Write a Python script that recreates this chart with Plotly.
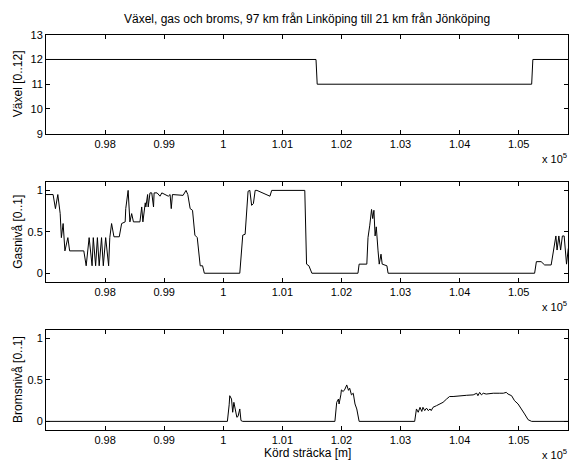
import plotly.graph_objects as go

# ---------------- data ----------------
gear_x = [97000, 101570, 101590, 105220, 105240, 105840]
gear_y = [12, 12, 11, 11, 12, 12]

gas_x = [97000, 97120, 97160, 97200, 97240, 97260, 97290, 97320, 97370, 97400,
         97640, 97680, 97730, 97780, 97800, 97840, 97870, 97900, 97940, 97970,
         98010, 98060, 98080, 98110, 98150, 98240, 98280, 98340, 98350, 98390,
         98420, 98450, 98480, 98590, 98620, 98640, 98680, 98690, 98720, 98730,
         98760, 98790, 98820, 98830, 98880, 98930, 98960, 99070, 99100, 99120,
         99140, 99320, 99370, 99400, 99440, 99480, 99520, 99560, 99610, 99650,
         99680, 100280, 100330, 100370, 100420, 100450, 100480, 100510, 100540, 100570,
         100790, 100820, 101380, 101410, 101450, 101500, 102280, 102300, 102430, 102450,
         102480, 102510, 102530, 102550, 102570, 102590, 102620, 102640, 102670, 102690,
         102770, 102790, 105270, 105300, 105380, 105440, 105550, 105590, 105630, 105650,
         105680, 105710, 105740, 105770, 105810, 105840]
gas_y = [0.95, 0.95, 0.78, 0.95, 0.72, 0.43, 0.60, 0.27, 0.43, 0.27,
         0.27, 0.09, 0.43, 0.09, 0.43, 0.09, 0.43, 0.09, 0.43, 0.09,
         0.43, 0.09, 0.43, 0.60, 0.44, 0.44, 0.60, 0.62, 0.78, 1.00,
         0.62, 0.72, 0.62, 0.62, 0.80, 0.62, 0.85, 0.80, 0.95, 0.80,
         0.97, 0.97, 0.80, 0.97, 0.97, 0.93, 0.97, 0.93, 0.95, 0.78,
         0.95, 0.94, 1.00, 0.95, 0.78, 0.76, 0.46, 0.43, 0.09, 0.09,
         0.00, 0.00, 0.46, 0.47, 0.99, 1.00, 0.82, 0.84, 1.00, 1.00,
         0.93, 1.00, 1.00, 0.11, 0.09, 0.00, 0.00, 0.11, 0.11, 0.43,
         0.58, 0.77, 0.66, 0.76, 0.45, 0.56, 0.27, 0.11, 0.23, 0.11,
         0.09, 0.00, 0.00, 0.14, 0.14, 0.10, 0.10, 0.27, 0.45, 0.28,
         0.45, 0.28, 0.45, 0.45, 0.11, 0.30]

brake_x = [97000, 100070, 100100, 100110, 100140, 100160, 100180, 100210, 100230, 100250,
           100280, 100300, 100330, 101890, 101920, 101950, 101960, 101990, 102000, 102030,
           102060, 102090, 102120, 102140, 102170, 102200, 102230, 102260, 102280, 102300,
           103240, 103270, 103300, 103330, 103360, 103380, 103410, 103440, 103470, 103500,
           103520, 103550, 103610, 103670, 103720, 103780, 103830, 103890, 104000, 104120,
           104230, 104290, 104310, 104340, 104370, 104400, 104450, 104570, 104680, 104740,
           104790, 104820, 104880, 104930, 104990, 105050, 105100, 105160, 105220, 105840]
brake_y = [0.00, 0.00, 0.20, 0.31, 0.27, 0.11, 0.23, 0.09, 0.05, 0.06,
           0.15, 0.01, 0.00, 0.00, 0.23, 0.27, 0.21, 0.32, 0.38, 0.36,
           0.39, 0.44, 0.375, 0.40, 0.32, 0.34, 0.21, 0.15, 0.07, 0.00,
           0.00, 0.15, 0.11, 0.17, 0.12, 0.17, 0.13, 0.16, 0.13, 0.15,
           0.13, 0.17, 0.19, 0.21, 0.23, 0.27, 0.30, 0.30, 0.31, 0.315,
           0.32, 0.34, 0.31, 0.35, 0.32, 0.34, 0.33, 0.34, 0.34, 0.34,
           0.35, 0.33, 0.31, 0.25, 0.21, 0.15, 0.09, 0.02, 0.00, 0.00]

x_tickvals = [98000, 99000, 100000, 101000, 102000, 103000, 104000, 105000]
x_ticktext = ["0.98", "0.99", "1", "1.01", "1.02", "1.03", "1.04", "1.05"]
x_range = [97000, 105840]

gear_ticks = [9, 10, 11, 12, 13]
level_tickvals = [0, 0.5, 1]
level_ticktext = ["0", "0.5", "1"]

title_text = "Växel, gas och broms, 97 km från Linköping till 21 km från Jönköping"
ylabels = ["Växel [0..12]", "Gasnivå [0..1]", "Bromsnivå [0..1]"]
xlabel = "Körd sträcka [m]"

# ---------------- figure ----------------
W, H = 573, 473
FONT = "Liberation Sans, Arial, Helvetica, sans-serif"

x_dom = [46 / W, 568.3 / W]
# pixel top/bottom of each panel
panels = [(29.5, 131.0), (180.7, 282.7), (332.7, 434.7)]
y_doms = [[1 - b / H, 1 - t / H] for t, b in panels]

fig = go.Figure()
series = [(gear_x, gear_y), (gas_x, gas_y), (brake_x, brake_y)]
for i, (sx, sy) in enumerate(series):
    fig.add_trace(go.Scatter(x=sx, y=sy, mode="lines",
                             line=dict(color="black", width=1),
                             xaxis="x" if i == 0 else f"x{i+1}",
                             yaxis="y" if i == 0 else f"y{i+1}",
                             showlegend=False, hoverinfo="skip"))

axis_common = dict(showline=True, linecolor="black", linewidth=1, mirror="ticks",
                   ticks="inside", ticklen=4, tickcolor="black", tickwidth=1,
                   showgrid=False, zeroline=False,
                   tickfont=dict(family=FONT, size=11, color="black"))

layout = dict(width=W, height=H, margin=dict(l=0, r=0, t=0, b=0),
              paper_bgcolor="white", plot_bgcolor="white", showlegend=False,
              font=dict(family=FONT, size=11, color="black"))

yranges = [[9, 13], [-0.1, 1.1], [-0.1, 1.1]]
for i in range(3):
    xn = "xaxis" if i == 0 else f"xaxis{i+1}"
    yn = "yaxis" if i == 0 else f"yaxis{i+1}"
    ya = "y" if i == 0 else f"y{i+1}"
    xa = "x" if i == 0 else f"x{i+1}"
    layout[xn] = dict(axis_common, domain=x_dom, range=x_range, anchor=ya,
                      tickmode="array", tickvals=x_tickvals, ticktext=x_ticktext)
    if i == 0:
        ydict = dict(axis_common, domain=y_doms[i], range=yranges[i], anchor=xa,
                     tickmode="array", tickvals=gear_ticks,
                     ticktext=[str(v) for v in gear_ticks])
    else:
        ydict = dict(axis_common, domain=y_doms[i], range=yranges[i], anchor=xa,
                     tickmode="array", tickvals=level_tickvals, ticktext=level_ticktext)
    layout[yn] = ydict

fig.update_layout(**layout)

LBL = dict(family=FONT, size=12, color="black")
ann = []
ann.append(dict(text=title_text, x=(x_dom[0] + x_dom[1]) / 2, y=1 - 13 / H,
                xref="paper", yref="paper", showarrow=False,
                xanchor="center", yanchor="middle", font=LBL))
for i, (t, b) in enumerate(panels):
    ann.append(dict(text=ylabels[i], x=18 / W, y=1 - (t + b) / 2 / H,
                    xref="paper", yref="paper", showarrow=False, textangle=-90,
                    xanchor="center", yanchor="middle", font=LBL))
    ann.append(dict(text="x 10<sup>5</sup>", x=569 / W, y=1 - (b + 25) / H,
                    xref="paper", yref="paper", showarrow=False,
                    xanchor="right", yanchor="middle",
                    font=dict(family=FONT, size=11, color="black")))
ann.append(dict(text=xlabel, x=(x_dom[0] + x_dom[1]) / 2, y=1 - 459 / H,
                xref="paper", yref="paper", showarrow=False,
                xanchor="center", yanchor="middle", font=LBL))
fig.update_layout(annotations=ann)

fig.write_html("out.html")
